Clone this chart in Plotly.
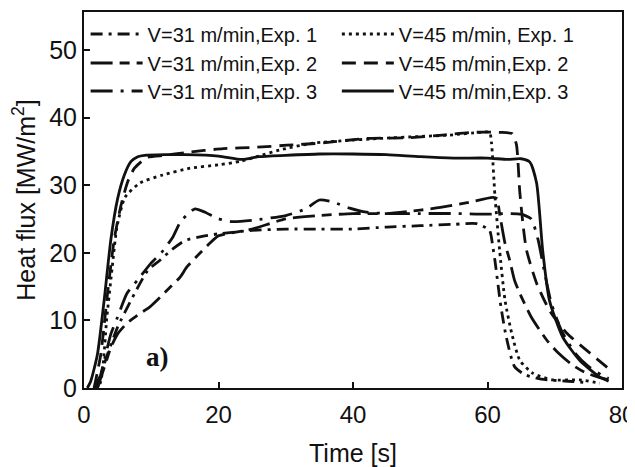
import plotly.graph_objects as go

# ---- data ----
t_31_1 = [1.5, 2.5, 3.5, 5, 7, 9.5, 11.3, 13, 15, 17, 20, 25, 30, 35, 40, 45, 50, 55, 58.4, 60.3, 60.8, 61.1, 62, 62.8, 64, 65.5, 68, 72, 75]
q_31_1 = [0, 2, 5, 9, 13, 17.4, 18.9, 20.4, 21.8, 22.3, 22.8, 23.3, 23.5, 23.5, 23.5, 23.8, 24.0, 24.2, 24.3, 23.3, 20.8, 18.9, 12, 7.5, 3.2, 2.0, 1.3, 1.0, 0.8]

t_31_2 = [2, 3, 4, 5, 6.4, 8, 9.8, 11.3, 12.8, 14.3, 15.3, 17, 18.7, 20, 25, 30, 35, 40, 45, 50, 53, 57, 60.8, 61.4, 61.8, 62.6, 63.3, 64, 64.8, 66.5, 68.8, 70.5, 72.5, 74.5, 76.5, 78]
q_31_2 = [0, 3, 6, 8, 9.6, 10.8, 12, 13.4, 14.9, 16.4, 17.9, 19.7, 21.4, 22.5, 23.5, 25.0, 25.5, 25.8, 25.8, 26.3, 26.7, 27.4, 28.2, 28.0, 25.8, 21.4, 18.9, 16, 14, 10.5, 7.1, 5.2, 3.5, 2.3, 1.6, 1.2]

t_31_3 = [2, 3, 4, 5, 6.4, 8, 10, 11.5, 13.2, 14.3, 15.5, 16.5, 18, 19.8, 22, 25, 30, 33, 35, 37, 39.5, 42, 45, 50, 55, 60, 63, 65, 66.5, 67.5, 68.5, 69.5, 71, 73, 75, 77, 78]
q_31_3 = [0, 4, 8, 10.5, 14, 16, 18.5, 20, 22.3, 24.5, 25.8, 26.5, 26.0, 25.1, 24.6, 24.8, 25.5, 26.5, 27.8, 27.5, 26.6, 26.0, 25.8, 25.8, 25.8, 25.7, 25.8, 25.7, 25.0, 22, 17, 12.5, 8.5, 5.2, 3.2, 1.9, 1.4]

t_45_1 = [1.5, 2.4, 3.4, 4.2, 4.9, 6.1, 8.3, 11.7, 15.8, 20, 23.2, 26, 29.1, 34, 39, 44, 50, 54.4, 58.8, 60.3, 60.6, 61.1, 61.8, 62.6, 63.6, 64.8, 66.7, 69.7, 73.7, 76.7]
q_45_1 = [0, 0.7, 10.5, 17.9, 23.8, 28.2, 30.3, 31.5, 32.5, 33.0, 33.5, 34.3, 35.2, 36.2, 36.6, 36.9, 37.2, 37.4, 37.8, 37.8, 36.2, 28.5, 20.4, 13, 8.1, 4.1, 2.2, 1.2, 1.2, 0.7]

t_45_2 = [1.5, 2.5, 3.5, 4.5, 5.5, 6.5, 7.5, 9.4, 12, 15, 20.7, 25.7, 30.2, 35, 42, 48, 53.3, 57.8, 61.8, 63.7, 64.3, 64.8, 65.3, 65.8, 67.3, 69.2, 71.8, 75.2, 78.2]
q_45_2 = [0, 5, 14, 22, 27, 30.5, 32.5, 34.1, 34.4, 34.8, 35.4, 35.6, 35.9, 36.2, 36.9, 37.0, 37.4, 37.8, 37.8, 37.6, 36.0, 29, 24, 20.4, 15.5, 11.5, 8.1, 5.2, 2.7]

t_45_3 = [0.5, 1, 2, 3, 4, 5, 6, 7, 8, 9, 12, 15, 20, 23.5, 26, 30, 35, 40, 45, 50, 55, 60, 63, 65, 66.3, 67.3, 68.2, 69.2, 71.2, 73.7, 76.7, 78]
q_45_3 = [0, 1, 5, 13, 22, 28, 31.5, 33.5, 34.2, 34.4, 34.5, 34.5, 34.3, 33.8, 34.2, 34.4, 34.6, 34.6, 34.5, 34.2, 34.0, 34.0, 33.8, 33.9, 33.4, 30.3, 20.4, 13, 7.5, 4.1, 1.6, 1.0]

names = ["V=31 m/min,Exp. 1", "V=31 m/min,Exp. 2", "V=31 m/min,Exp. 3",
         "V=45 m/min, Exp. 1", "V=45 m/min,Exp. 2", "V=45 m/min,Exp. 3"]

series = [(t_31_1, q_31_1), (t_31_2, q_31_2), (t_31_3, q_31_3),
          (t_45_1, q_45_1), (t_45_2, q_45_2), (t_45_3, q_45_3)]

dashes = ["12px,6px,3px,6px", "22px,7px,10px,7px", "22px,8px,3px,8px",
          "3px,4px", "14px,8px", "solid"]

INK = "#111111"
FONT = "Arial, Liberation Sans, sans-serif"

# legend slot positions (paper fractions): two columns, three rows
leg_x = [0.003, 0.003, 0.003, 0.47, 0.47, 0.47]
leg_y = [0.9415, 0.8644, 0.7899, 0.9415, 0.8644, 0.7899]

fig = go.Figure()
legend_layouts = {}
for i, ((x, y), nm) in enumerate(zip(series, names)):
    key = "legend" if i == 0 else f"legend{i + 1}"
    fig.add_trace(go.Scatter(
        x=x, y=y, mode="lines", name=nm,
        line=dict(color=INK, width=2.8, dash=dashes[i], shape="spline", smoothing=0.6),
        legend=key,
    ))
    legend_layouts[key] = dict(
        x=leg_x[i], y=leg_y[i], xanchor="left", yanchor="middle",
        font=dict(family=FONT, size=20, color=INK),
        bgcolor="rgba(0,0,0,0)", borderwidth=0, itemwidth=52,
        orientation="v",
    )

# the page body adds an 8px offset, so the figure is 8px smaller than the window
fig.update_layout(
    width=627, height=459,
    margin=dict(l=76, r=13, t=4, b=79, autoexpand=False),
    paper_bgcolor="white", plot_bgcolor="white",
    font=dict(family=FONT, size=24, color=INK),
    showlegend=True,
    xaxis=dict(
        range=[0, 80], tickvals=[0, 20, 40, 60, 80], automargin=False,
        ticks="inside", ticklen=6, tickwidth=1.5, tickcolor=INK,
        showline=True, linewidth=2, linecolor=INK, mirror=True,
        showgrid=False, zeroline=False, ticklabeloverflow="allow",
        ticklabelstandoff=4,
        title=dict(text="Time [s]", font=dict(size=25), standoff=18),
        tickfont=dict(size=24),
    ),
    yaxis=dict(
        range=[0, 55.6], tickvals=[0, 10, 20, 30, 40, 50], automargin=False,
        ticks="inside", ticklen=6, tickwidth=1.5, tickcolor=INK,
        showline=True, linewidth=2, linecolor=INK, mirror=True,
        showgrid=False, zeroline=False,
        title=dict(text="Heat flux [MW/m<sup>2</sup>]", font=dict(size=25), standoff=19),
        tickfont=dict(size=25),
    ),
    annotations=[dict(
        x=11, y=4.6, xref="x", yref="y", text="<b>a)</b>", showarrow=False,
        font=dict(family="Times New Roman, Liberation Serif, serif", size=27, color=INK),
    )],
    **legend_layouts,
)

fig.write_html("out.html")
